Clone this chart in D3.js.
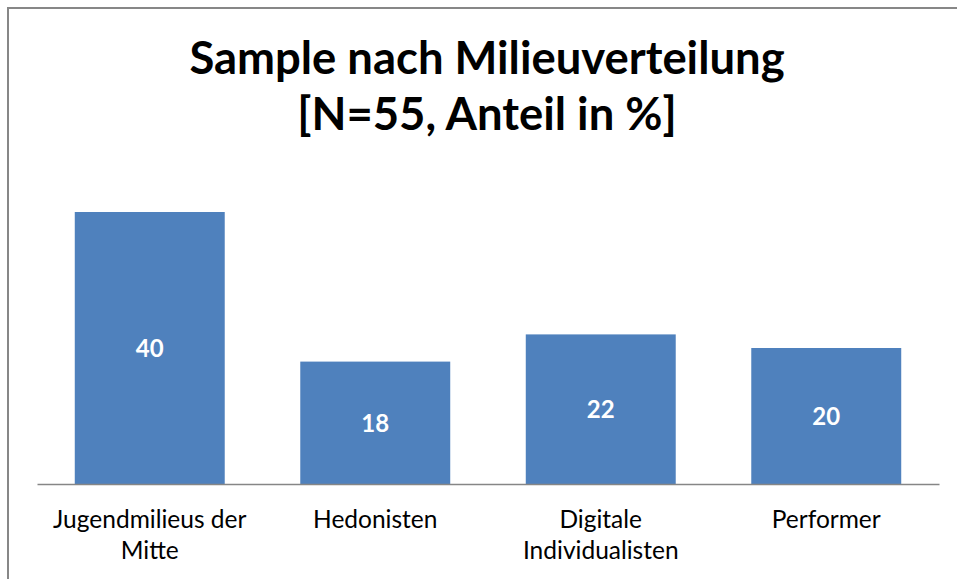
<!DOCTYPE html>
<html><head><meta charset="utf-8">
<script src="https://cdn.jsdelivr.net/npm/d3@7"></script>
<style>body{margin:0;background:#fff}svg{display:block}</style>
</head><body>
<script>
const categories = [["Jugendmilieus der","Mitte"],["Hedonisten"],["Digitale","Individualisten"],["Performer"]];
const values = [40, 18, 22, 20];
const titleLines = ["Sample nach Milieuverteilung","[N=55, Anteil in %]"];

const W = 957, H = 579;
const svg = d3.select("body").append("svg").attr("width", W).attr("height", H);
const font = "Lato, 'Open Sans', sans-serif";

svg.append("rect").attr("x", 8).attr("y", 8).attr("width", W + 20).attr("height", H + 20)
  .attr("fill", "#fff").attr("stroke", "#878787").attr("stroke-width", 2);

const keys = categories.map(c => c.join(" "));
const x = d3.scaleBand().domain(keys).range([37, 939]).paddingInner(0.335).paddingOuter(0.1675);
const y = d3.scaleLinear().domain([0, 45]).range([484, 178]);

svg.selectAll("rect.bar").data(values).join("rect").attr("class", "bar")
  .attr("x", (d, i) => x(keys[i])).attr("width", x.bandwidth())
  .attr("y", d => y(d)).attr("height", d => y(0) - y(d)).attr("fill", "#4F81BD");

svg.selectAll("text.val").data(values).join("text").attr("class", "val")
  .attr("x", (d, i) => x(keys[i]) + x.bandwidth() / 2)
  .attr("y", d => (y(d) + y(0)) / 2 + 9)
  .attr("text-anchor", "middle").attr("font-family", font).attr("font-weight", "bold")
  .attr("font-size", 24).attr("fill", "#fff").text(d => d);

const ax = svg.append("g").attr("transform", `translate(0,${y(0)})`)
  .call(d3.axisBottom(x).tickSize(0).tickFormat(""));
ax.select(".domain").attr("stroke", "#868686").attr("stroke-width", 1.5);

categories.forEach((c, i) => {
  const t = svg.append("text").attr("text-anchor", "middle").attr("font-family", font)
    .attr("font-size", 24.5).attr("fill", "#000");
  c.forEach((line, j) => t.append("tspan").attr("x", x(keys[i]) + x.bandwidth() / 2)
    .attr("y", 528 + j * 31).text(line));
});

titleLines.forEach((line, j) => {
  svg.append("text").attr("x", 487).attr("y", 74 + j * 56).attr("text-anchor", "middle")
    .attr("font-family", font).attr("font-weight", "bold").attr("font-size", 45.4)
    .attr("fill", "#000").text(line);
});
</script>
</body></html>
